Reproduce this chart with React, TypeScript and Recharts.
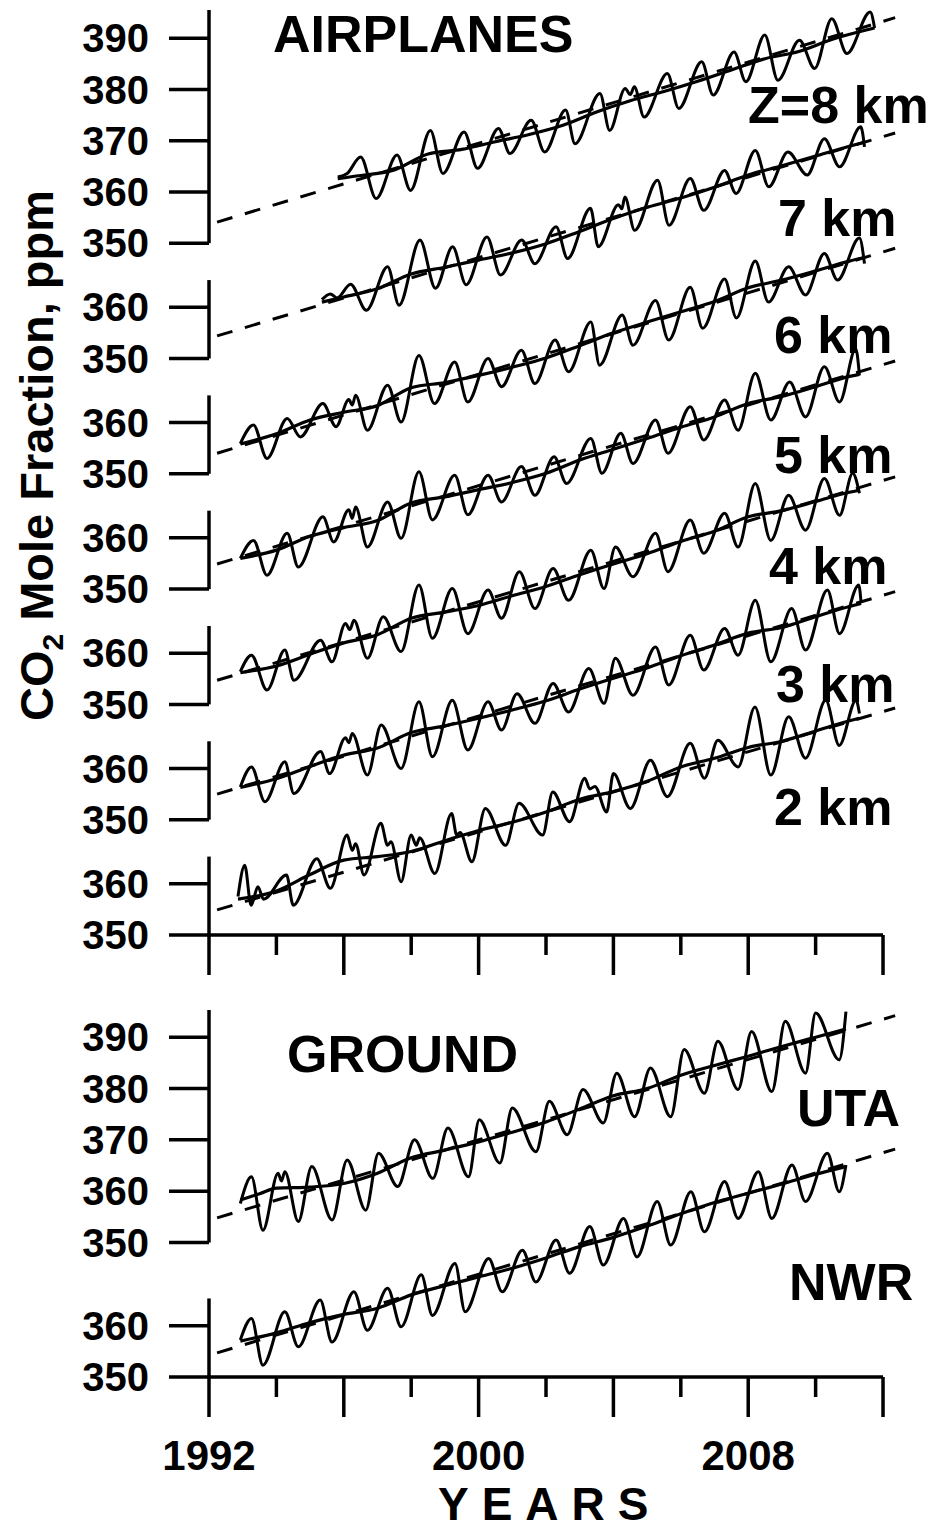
import { LineChart, Line, XAxis, YAxis, ReferenceLine } from "recharts";

type Pt = [number, number];

// ---- airplane profiles, [year, ppm] (peaks and troughs) ----
const z8Season: Pt[] = [
  [1995.82, 362.9], [1996.1, 363.6], [1996.5, 366.8], [1996.96, 358.7],
  [1997.58, 367.2], [1997.98, 360.3], [1998.57, 372.0], [1998.94, 363.6],
  [1999.57, 371.7], [1999.97, 364.6], [2000.59, 372.4], [2000.93, 367.5],
  [2001.56, 374.0], [2001.96, 367.8], [2002.58, 376.0], [2002.86, 369.4],
  [2003.6, 379.2], [2003.89, 372.0], [2004.35, 380.2], [2004.5, 379.0],
  [2004.62, 380.5], [2004.91, 374.6], [2005.6, 383.1], [2005.94, 376.3],
  [2006.62, 385.4], [2006.96, 378.9], [2007.58, 387.3], [2007.93, 381.5],
  [2008.49, 390.6], [2008.88, 381.8], [2009.52, 389.6], [2009.97, 384.1],
  [2010.48, 393.8], [2010.93, 387.0], [2011.62, 395.1], [2011.75, 392.0],
];
const z8Trend: Pt[] = [
  [1995.82, 362.6], [1996.5, 363.2], [1997.5, 364.3], [1998.5, 367.4], [1999.5, 368.3],
  [2000.5, 369.8], [2001.5, 371.2], [2002.5, 373.0], [2003.5, 375.6], [2004.5, 377.8],
  [2005.5, 379.6], [2006.5, 381.6], [2007.5, 383.8], [2008.5, 386.0], [2009.5, 387.4],
  [2010.5, 389.8], [2011.5, 391.6], [2011.75, 392.0],
];
const z8Fit: Pt[] = [[1992.24, 354.1], [2012.36, 394.0]];

const z7Season: Pt[] = [
  [1995.35, 361.5], [1995.6, 362.6], [1995.8, 361.8], [1996.2, 364.5], [1996.67, 359.4],
  [1997.3, 367.9], [1997.64, 360.4], [1998.26, 373.1], [1998.72, 363.7],
  [1999.23, 371.8], [1999.63, 364.4], [2000.25, 373.7], [2000.65, 366.3],
  [2001.28, 373.1], [2001.67, 368.5], [2002.3, 375.7], [2002.64, 369.5],
  [2003.32, 379.3], [2003.55, 371.8], [2004.15, 380.0], [2004.25, 379.2],
  [2004.34, 381.5], [2004.63, 375.0], [2005.31, 384.8], [2005.65, 376.0],
  [2006.28, 385.1], [2006.68, 378.9], [2007.3, 386.7], [2007.64, 382.2],
  [2008.21, 390.6], [2008.61, 383.5], [2009.18, 390.3], [2009.75, 385.8],
  [2010.26, 392.9], [2010.71, 387.4], [2011.34, 395.2], [2011.45, 391.3],
];
const z7Trend: Pt[] = [
  [1995.35, 361.0], [1996, 362.0], [1997, 363.6], [1998, 366.5], [1999, 367.8],
  [2000, 369.2], [2001, 370.6], [2002, 372.4], [2003, 374.8], [2004, 377.3],
  [2005, 379.5], [2006, 381.3], [2007, 383.4], [2008, 385.8], [2009, 387.6],
  [2010, 389.5], [2011, 391.4], [2011.45, 392.2],
];
const z7Fit: Pt[] = [[1992.24, 354.4], [2012.36, 394.0]];

const z6Season: Pt[] = [
  [1992.93, 355.9], [1993.32, 359.5], [1993.72, 353.0], [1994.32, 360.8], [1994.71, 357.2],
  [1995.38, 363.7], [1995.77, 359.2], [1996.15, 364.5], [1996.25, 363.4], [1996.35, 365.3],
  [1996.7, 358.5], [1997.3, 367.3], [1997.7, 360.1], [1998.23, 373.1], [1998.69, 363.7],
  [1999.29, 371.8], [1999.68, 364.0], [2000.28, 372.5], [2000.68, 367.0],
  [2001.27, 374.1], [2001.67, 367.6], [2002.27, 376.1], [2002.67, 369.9],
  [2003.33, 379.6], [2003.59, 371.2], [2004.26, 381.0], [2004.58, 375.1],
  [2005.25, 383.8], [2005.64, 376.1], [2006.28, 386.4], [2006.65, 378.4],
  [2007.3, 388.0], [2007.65, 380.4], [2008.21, 391.5], [2008.6, 383.5],
  [2009.2, 390.4], [2009.7, 384.9], [2010.26, 393.0], [2010.65, 387.8],
  [2011.3, 396.0], [2011.45, 391.0],
];
const z6Trend: Pt[] = [
  [1992.93, 355.8], [1994, 357.8], [1995, 360.5], [1996, 362.0], [1997, 363.3],
  [1998, 366.8], [1999, 367.8], [2000, 369.2], [2001, 370.8], [2002, 372.6],
  [2003, 375.0], [2004, 377.5], [2005, 379.6], [2006, 381.6], [2007, 383.6],
  [2008, 386.3], [2009, 387.8], [2010, 389.6], [2011, 391.5], [2011.45, 392.2],
];
const z6Fit: Pt[] = [[1992.24, 354.0], [2012.36, 394.0]];

const z5Season: Pt[] = [
  [1992.93, 356.0], [1993.32, 359.5], [1993.72, 352.7], [1994.32, 360.9], [1994.65, 354.3],
  [1995.38, 364.1], [1995.7, 359.2], [1996.15, 365.5], [1996.25, 363.8], [1996.35, 366.0],
  [1996.7, 358.2], [1997.3, 367.0], [1997.7, 359.9], [1998.23, 372.9], [1998.63, 363.5],
  [1999.29, 372.2], [1999.68, 364.5], [2000.28, 372.2], [2000.68, 367.0],
  [2001.27, 373.9], [2001.67, 368.3], [2002.24, 375.8], [2002.61, 370.6],
  [2003.33, 379.4], [2003.66, 372.6], [2004.22, 380.4], [2004.58, 374.5],
  [2005.25, 383.0], [2005.62, 376.5], [2006.28, 385.6], [2006.68, 379.1],
  [2007.3, 386.9], [2007.7, 381.0], [2008.21, 392.1], [2008.67, 383.0],
  [2009.23, 390.4], [2009.7, 383.6], [2010.26, 393.4], [2010.71, 386.5],
  [2011.19, 396.9], [2011.3, 391.7],
];
const z5Trend: Pt[] = [
  [1992.93, 356.0], [1994, 357.6], [1995, 360.3], [1996, 362.0], [1997, 363.4],
  [1998, 366.8], [1999, 368.0], [2000, 369.4], [2001, 370.8], [2002, 372.6],
  [2003, 375.2], [2004, 377.3], [2005, 379.4], [2006, 381.6], [2007, 383.6],
  [2008, 386.2], [2009, 387.6], [2010, 389.5], [2011, 391.5], [2011.3, 391.9],
];
const z5Fit: Pt[] = [[1992.24, 354.9], [2012.36, 394.5]];

const z4Season: Pt[] = [
  [1992.93, 356.4], [1993.26, 359.6], [1993.72, 352.8], [1994.25, 360.6], [1994.52, 354.7],
  [1995.31, 362.5], [1995.65, 358.3], [1996.05, 365.8], [1996.18, 364.6], [1996.3, 366.4],
  [1996.7, 359.0], [1997.17, 367.1], [1997.7, 360.3], [1998.23, 373.3], [1998.63, 362.9],
  [1999.22, 372.6], [1999.68, 363.8], [2000.28, 372.3], [2000.68, 366.8],
  [2001.21, 375.9], [2001.67, 368.7], [2002.21, 376.5], [2002.67, 370.3],
  [2003.33, 380.1], [2003.72, 372.6], [2004.06, 380.7], [2004.58, 374.9],
  [2005.25, 383.4], [2005.62, 375.9], [2006.28, 386.0], [2006.68, 379.5],
  [2007.3, 387.3], [2007.7, 380.7], [2008.21, 393.1], [2008.67, 382.0],
  [2009.2, 390.8], [2009.7, 384.0], [2010.26, 394.1], [2010.71, 386.9],
  [2011.1, 395.1], [2011.3, 391.2],
];
const z4Trend: Pt[] = [
  [1992.93, 356.2], [1994, 357.5], [1995, 359.8], [1996, 362.0], [1997, 363.6],
  [1998, 366.8], [1999, 368.0], [2000, 369.3], [2001, 371.2], [2002, 373.0],
  [2003, 375.3], [2004, 377.4], [2005, 379.4], [2006, 381.8], [2007, 383.8],
  [2008, 386.6], [2009, 387.8], [2010, 389.6], [2011, 391.4], [2011.3, 391.8],
];
const z4Fit: Pt[] = [[1992.24, 354.7], [2012.36, 394.4]];

const z3Season: Pt[] = [
  [1992.93, 356.4], [1993.26, 360.3], [1993.66, 353.5], [1994.25, 361.3], [1994.52, 355.1],
  [1995.31, 363.3], [1995.58, 359.0], [1996.05, 366.0], [1996.15, 365.0], [1996.25, 366.8],
  [1996.7, 358.7], [1997.11, 368.5], [1997.7, 360.0], [1998.23, 373.0], [1998.63, 362.3],
  [1999.22, 373.3], [1999.68, 363.6], [2000.28, 373.0], [2000.68, 367.5],
  [2001.14, 374.6], [2001.67, 368.8], [2002.21, 376.6], [2002.67, 371.0],
  [2003.27, 379.5], [2003.72, 372.7], [2004.06, 381.5], [2004.58, 374.3],
  [2005.25, 383.7], [2005.64, 376.3], [2006.28, 386.0], [2006.68, 379.2],
  [2007.3, 387.3], [2007.7, 382.1], [2008.21, 392.8], [2008.67, 380.8],
  [2009.29, 391.2], [2009.7, 383.1], [2010.35, 394.8], [2010.71, 386.3],
  [2011.28, 395.8], [2011.35, 392.3],
];
const z3Trend: Pt[] = [
  [1992.93, 356.3], [1994, 358.0], [1995, 360.4], [1996, 362.6], [1997, 364.0],
  [1998, 367.0], [1999, 368.3], [2000, 369.8], [2001, 371.4], [2002, 373.2],
  [2003, 375.5], [2004, 377.6], [2005, 379.6], [2006, 382.0], [2007, 384.1],
  [2008, 386.4], [2009, 387.5], [2010, 389.6], [2011, 391.6], [2011.35, 392.2],
];
const z3Fit: Pt[] = [[1992.24, 355.0], [2012.36, 394.5]];

const z2Season: Pt[] = [
  [1992.86, 357.5], [1993.06, 363.6], [1993.25, 355.8], [1993.45, 359.4], [1993.62, 357.0],
  [1994.3, 361.7], [1994.5, 355.8], [1995.2, 364.9], [1995.6, 359.1],
  [1996.1, 369.5], [1996.25, 366.5], [1996.35, 367.8], [1996.6, 361.7],
  [1997.1, 371.8], [1997.3, 367.5], [1997.4, 368.2], [1997.7, 360.4],
  [1998.0, 369.5], [1998.15, 367.5], [1998.25, 369.0], [1998.7, 362.0],
  [1999.2, 373.7], [1999.35, 369.5], [1999.45, 370.0], [1999.8, 364.3],
  [2000.2, 374.7], [2000.8, 367.5], [2001.2, 375.7], [2001.9, 369.5],
  [2002.2, 377.9], [2002.7, 372.1], [2003.15, 380.6], [2003.3, 378.5],
  [2003.45, 379.0], [2003.8, 374.0], [2004.0, 381.5], [2004.5, 374.7],
  [2005.1, 384.1], [2005.6, 377.0], [2006.28, 387.4], [2006.7, 380.6],
  [2007.1, 388.0], [2007.7, 382.8], [2008.2, 394.5], [2008.67, 381.2],
  [2009.2, 392.6], [2009.7, 384.5], [2010.3, 395.8], [2010.7, 387.0],
  [2011.2, 395.8], [2011.3, 393.2],
];
const z2Trend: Pt[] = [
  [1992.86, 357.0], [1994, 358.6], [1995, 361.8], [1996, 364.6], [1997, 365.3],
  [1998, 366.3], [1999, 368.4], [2000, 370.4], [2001, 372.0], [2002, 374.0],
  [2003, 376.5], [2004, 378.0], [2005, 380.0], [2006, 382.8], [2007, 384.5],
  [2008, 386.6], [2009, 387.8], [2010, 389.8], [2011, 391.8], [2011.3, 392.3],
];
const z2Fit: Pt[] = [[1992.24, 354.9], [2012.36, 394.3]];

// ---- ground stations ----
const utaSeason: Pt[] = [
  [1992.93, 357.6], [1993.26, 362.8], [1993.6, 352.4], [1994.05, 363.5], [1994.15, 362.0],
  [1994.25, 363.8], [1994.65, 354.1], [1995.05, 364.8], [1995.65, 354.4],
  [1996.1, 366.1], [1996.65, 356.3], [1997.03, 367.4], [1997.6, 360.9],
  [1998.1, 370.0], [1998.64, 362.5], [1999.09, 372.3], [1999.7, 362.8],
  [2000.02, 373.9], [2000.63, 365.5], [2001.0, 376.2], [2001.7, 367.7],
  [2002.1, 377.5], [2002.63, 371.0], [2003.1, 379.8], [2003.7, 373.3],
  [2004.1, 383.0], [2004.63, 374.5], [2005.1, 384.0], [2005.7, 374.5],
  [2006.1, 387.6], [2006.7, 379.1], [2007.1, 389.2], [2007.7, 379.8],
  [2008.1, 391.1], [2008.7, 379.4], [2009.1, 393.1], [2009.7, 383.0],
  [2010.0, 394.7], [2010.7, 385.6], [2010.9, 395.0],
];
const utaTrend: Pt[] = [
  [1992.93, 358.3], [1993.5, 359.5], [1994, 360.6], [1995, 360.8], [1996, 361.5],
  [1997, 363.5], [1998, 366.5], [1999, 368.0], [2000, 369.6], [2001, 371.5],
  [2002, 373.5], [2003, 376.0], [2004, 378.6], [2005, 380.0], [2006, 382.6],
  [2007, 384.5], [2008, 386.3], [2009, 388.2], [2010, 390.0], [2010.9, 391.6],
];
const utaFit: Pt[] = [[1992.24, 354.8], [2012.36, 394.2]];

const nwrSeason: Pt[] = [
  [1992.93, 357.2], [1993.26, 361.4], [1993.6, 352.3], [1994.25, 362.7], [1994.65, 355.9],
  [1995.3, 365.0], [1995.65, 356.8], [1996.3, 366.6], [1996.7, 359.1],
  [1997.3, 367.3], [1997.7, 359.8], [1998.3, 369.9], [1998.63, 362.0],
  [1999.3, 372.1], [1999.6, 362.7], [2000.3, 373.1], [2000.7, 366.6],
  [2001.3, 374.7], [2001.7, 368.5], [2002.3, 376.7], [2002.7, 370.2],
  [2003.3, 379.3], [2003.7, 371.8], [2004.3, 380.9], [2004.7, 373.4],
  [2005.3, 384.2], [2005.7, 375.7], [2006.3, 386.1], [2006.7, 378.3],
  [2007.3, 388.1], [2007.7, 380.9], [2008.3, 390.0], [2008.7, 380.9],
  [2009.3, 391.3], [2009.7, 384.2], [2010.35, 393.6], [2010.7, 386.1],
  [2010.9, 391.3],
];
const nwrTrend: Pt[] = [
  [1992.93, 357.0], [1994, 358.6], [1995, 360.6], [1996, 362.2], [1997, 363.4],
  [1998, 366.0], [1999, 367.8], [2000, 369.5], [2001, 371.2], [2002, 373.2],
  [2003, 375.4], [2004, 377.2], [2005, 379.4], [2006, 381.8], [2007, 384.0],
  [2008, 385.8], [2009, 387.6], [2010, 389.5], [2010.9, 391.0],
];
const nwrFit: Pt[] = [[1992.24, 354.7], [2012.36, 394.4]];

// tick labels
const topPanelTicks = [390, 380, 370, 360, 350];
const lowPanelTicks = [360, 350];
const yearTicks = [1992, 1994, 1996, 1998, 2000, 2002, 2004, 2006, 2008, 2010, 2012];
const yearLabels = [1992, 2000, 2008];

// each panel is drawn shifted down by this many ppm
const airPanels = [
  { id: "z8", season: z8Season, trend: z8Trend, fit: z8Fit, shift: 0 },
  { id: "z7", season: z7Season, trend: z7Trend, fit: z7Fit, shift: 22.5 },
  { id: "z6", season: z6Season, trend: z6Trend, fit: z6Fit, shift: 45 },
  { id: "z5", season: z5Season, trend: z5Trend, fit: z5Fit, shift: 67.5 },
  { id: "z4", season: z4Season, trend: z4Trend, fit: z4Fit, shift: 90 },
  { id: "z3", season: z3Season, trend: z3Trend, fit: z3Fit, shift: 112.5 },
  { id: "z2", season: z2Season, trend: z2Trend, fit: z2Fit, shift: 135 },
];
const groundPanels = [
  { id: "uta", season: utaSeason, trend: utaTrend, fit: utaFit, shift: 0 },
  { id: "nwr", season: nwrSeason, trend: nwrTrend, fit: nwrFit, shift: 26.2 },
];

const FONT = "'Liberation Sans', Arial, Helvetica, sans-serif";
const INK = "#000";

const rows = (pts: Pt[], shift: number) => pts.map(([x, y]) => ({ x, y: y - shift }));

function axisTicks(panels: { shift: number }[]) {
  const ticks: number[] = [];
  const labels = new Map<number, string>();
  panels.forEach((p, i) => {
    (i === 0 ? topPanelTicks : lowPanelTicks).forEach((v) => {
      ticks.push(v - p.shift);
      labels.set(v - p.shift, String(v));
    });
  });
  return { ticks, labels };
}

const YearTick = (props: any) => {
  const { x, y, payload, withLabel } = props;
  const major = (payload.value - 1992) % 4 === 0;
  return (
    <g>
      <line x1={x} x2={x} y1={y} y2={y + (major ? 40 : 20)} stroke={INK} strokeWidth={3.5} />
      {withLabel && yearLabels.includes(payload.value) && (
        <text x={x} y={y + 93} textAnchor="middle" fontSize={42} fontWeight="bold" fontFamily={FONT} fill={INK}>
          {payload.value}
        </text>
      )}
    </g>
  );
};

function Panel({ panels, height, top, bottomAxis, withLabel }: any) {
  const lowest = 350 - panels[panels.length - 1].shift;
  const highest = top;
  const { ticks, labels } = axisTicks(panels);
  return (
    <LineChart width={935} height={height} margin={{ top: 10, right: 38.5, left: 0, bottom: 0 }}>
      <XAxis
        dataKey="x"
        type="number"
        domain={[1992, 2012.4]}
        allowDataOverflow
        ticks={yearTicks}
        interval={0}
        axisLine={false}
        tickLine={false}
        tickSize={0}
        tickMargin={0}
        height={bottomAxis}
        tick={<YearTick withLabel={withLabel} />}
      />
      <YAxis
        type="number"
        domain={[lowest, highest]}
        allowDataOverflow
        ticks={ticks}
        interval={0}
        width={209}
        axisLine={false}
        tickSize={40}
        tickMargin={20}
        tickLine={{ stroke: INK, strokeWidth: 3.5 }}
        tickFormatter={(v: number) => labels.get(v) ?? ""}
        tick={{ fill: INK, fontSize: 40, fontWeight: "bold", fontFamily: FONT }}
      />
      {panels.map((p: any, i: number) => (
        <ReferenceLine
          key={p.id + "-axis"}
          ifOverflow="visible"
          stroke={INK}
          strokeWidth={3.5}
          segment={[
            { x: 1992, y: i === 0 ? highest : 365.3 - p.shift },
            { x: 1992, y: 350 - p.shift },
          ]}
        />
      ))}
      <ReferenceLine
        ifOverflow="visible"
        stroke={INK}
        strokeWidth={3.5}
        segment={[
          { x: 1992, y: lowest },
          { x: 2012, y: lowest },
        ]}
      />
      {panels.flatMap((p: any) => [
        <Line
          key={p.id + "-fit"}
          data={rows(p.fit, p.shift)}
          dataKey="y"
          type="linear"
          stroke={INK}
          strokeWidth={3}
          strokeDasharray="16 13"
          dot={false}
          activeDot={false}
          isAnimationActive={false}
        />,
        <Line
          key={p.id + "-trend"}
          data={rows(p.trend, p.shift)}
          dataKey="y"
          type="monotone"
          stroke={INK}
          strokeWidth={3.2}
          dot={false}
          activeDot={false}
          isAnimationActive={false}
        />,
        <Line
          key={p.id + "-season"}
          data={rows(p.season, p.shift)}
          dataKey="y"
          type="monotone"
          stroke={INK}
          strokeWidth={3}
          strokeLinejoin="round"
          dot={false}
          activeDot={false}
          isAnimationActive={false}
        />,
      ])}
    </LineChart>
  );
}

const notes = [
  { t: "AIRPLANES", x: 273, cy: 33 },
  { t: "Z=8 km", x: 748, cy: 104 },
  { t: "7 km", x: 778, cy: 217 },
  { t: "6 km", x: 774, cy: 334 },
  { t: "5 km", x: 774, cy: 454 },
  { t: "4 km", x: 769, cy: 565 },
  { t: "3 km", x: 776, cy: 683 },
  { t: "2 km", x: 774, cy: 806 },
  { t: "GROUND", x: 287, cy: 1053 },
  { t: "UTA", x: 797, cy: 1107 },
  { t: "NWR", x: 789, cy: 1281 },
];

const NOTE_SIZE = 52;

export default function App() {
  return (
    <div style={{ position: "absolute", left: 0, top: 0, width: 935, height: 1530, background: "#fff", fontFamily: FONT, color: INK, overflow: "hidden" }}>
      <div style={{ position: "absolute", left: 0, top: 0 }}>
        <Panel panels={airPanels} height={1000} top={395.5} bottomAxis={65} withLabel={false} />
      </div>
      <div style={{ position: "absolute", left: 0, top: 1000 }}>
        <Panel panels={groundPanels} height={530} top={395.3} bottomAxis={153} withLabel />
      </div>

      {notes.map((n) => (
        <div
          key={n.t}
          style={{ position: "absolute", left: n.x, top: n.cy - 0.4885 * NOTE_SIZE, fontSize: NOTE_SIZE, lineHeight: 1, fontWeight: "bold", whiteSpace: "nowrap" }}
        >
          {n.t}
        </div>
      ))}

      <div
        style={{ position: "absolute", left: 438, top: 1481, fontSize: 46, lineHeight: 1, fontWeight: "bold", letterSpacing: 13, whiteSpace: "nowrap" }}
      >
        YEARS
      </div>

      <div
        style={{
          position: "absolute",
          left: 36 - 320,
          top: 455 - 23.5,
          width: 640,
          height: 47,
          fontSize: 47,
          lineHeight: 1,
          fontWeight: "bold",
          textAlign: "center",
          whiteSpace: "nowrap",
          transform: "rotate(-90deg)",
          transformOrigin: "50% 50%",
        }}
      >
        CO<sub style={{ fontSize: 30, verticalAlign: "-0.35em", lineHeight: 0 }}>2</sub> Mole Fraction, ppm
      </div>
    </div>
  );
}
